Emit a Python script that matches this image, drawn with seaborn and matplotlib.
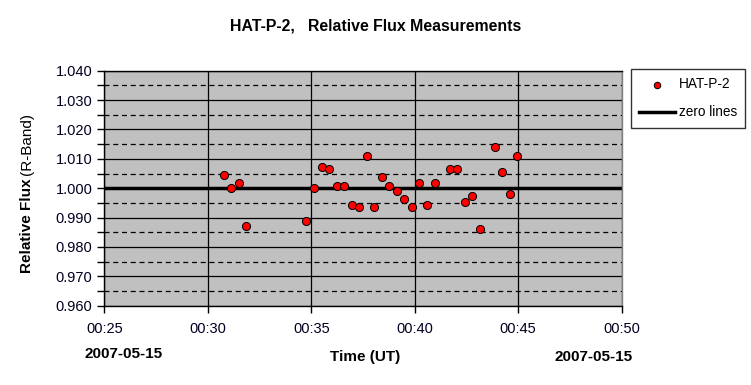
import pandas as pd
import seaborn as sns
import matplotlib.pyplot as plt
import matplotlib.dates as mdates
from matplotlib.ticker import MultipleLocator

plt.rcParams['font.family'] = ['Liberation Sans', 'DejaVu Sans']

# observation times (UT, 2007-05-15) and relative flux values
obs_date = '2007-05-15'
times = ['00:30:47', '00:31:07', '00:31:31', '00:31:51', '00:34:44', '00:35:07',
         '00:35:31', '00:35:52', '00:36:14', '00:36:34', '00:36:58', '00:37:19',
         '00:37:41', '00:38:02', '00:38:24', '00:38:45', '00:39:08', '00:39:29',
         '00:39:51', '00:40:12', '00:40:35', '00:40:58', '00:41:42', '00:42:02',
         '00:42:25', '00:42:46', '00:43:08', '00:43:52', '00:44:12', '00:44:35',
         '00:44:56']
flux = [1.0045, 1.0002, 1.0019, 0.9871, 0.9889, 1.0002,
        1.0073, 1.0065, 1.0009, 1.0009, 0.9944, 0.9937,
        1.0111, 0.9937, 1.0039, 1.0009, 0.9991, 0.9964,
        0.9937, 1.0019, 0.9944, 1.0019, 1.0066, 1.0066,
        0.9954, 0.9974, 0.9862, 1.0141, 1.0055, 0.9981,
        1.0111]
x_range = ['00:25', '00:50']
y_range = [0.960, 1.040]

df = pd.DataFrame({'time': pd.to_datetime([obs_date + ' ' + t for t in times]),
                   'flux': flux})
x0, x1 = pd.to_datetime([obs_date + ' ' + t for t in x_range])

fig = plt.figure(figsize=(7.51, 3.85), dpi=100)
ax = fig.add_axes([104.3 / 751, 1 - 305.7 / 385, 517.4 / 751, 235 / 385])
ax.set_facecolor('#c0c0c0')

# grid: solid majors, dashed minors on y
for v in [0.96 + 0.01 * i for i in range(9)]:
    ax.axhline(v, color='black', lw=0.9, zorder=1)
for v in [0.965 + 0.01 * i for i in range(8)]:
    ax.axhline(v, color='black', lw=0.9, ls=(0, (4, 3)), zorder=1)
ax.xaxis.set_major_locator(mdates.MinuteLocator(byminute=range(0, 60, 5)))
ax.xaxis.set_major_formatter(mdates.DateFormatter('%H:%M'))
ax.grid(axis='x', color='black', lw=0.9, zorder=1)

zero = ax.axhline(1.0, color='black', lw=2.5, zorder=2, label='zero lines')
sns.scatterplot(data=df, x='time', y='flux', ax=ax, color='#ff0000',
                edgecolor='black', linewidth=0.7, s=34, zorder=3, label='HAT-P-2')

ax.set_xlim(x0, x1)
ax.set_ylim(*y_range)
ax.yaxis.set_major_locator(MultipleLocator(0.01))
ax.yaxis.set_minor_locator(MultipleLocator(0.005))
ax.yaxis.set_major_formatter(plt.FormatStrFormatter('%.3f'))
ax.tick_params(axis='both', which='both', direction='out', length=5, width=1,
               color='black', labelsize=10.5, labelcolor='#000020')
ax.tick_params(axis='x', pad=7)
ax.set_xlabel('')
ax.set_ylabel('')
for sp in ax.spines.values():
    sp.set_color('black')
    sp.set_linewidth(1)
ax.spines['right'].set_color('#808080')

h, l = ax.get_legend_handles_labels()
order = [l.index('HAT-P-2'), l.index('zero lines')]
leg = fig.legend([h[i] for i in order], [l[i] for i in order],
                 loc='upper left', bbox_to_anchor=(631 / 751, 1 - 69 / 385),
                 fontsize=9.8, frameon=True, fancybox=False, edgecolor='black',
                 handlelength=2.6, handletextpad=0.3, labelspacing=1.05,
                 borderpad=0.6, borderaxespad=0, markerscale=0.8)
leg.get_frame().set_linewidth(1)
if ax.get_legend():
    ax.get_legend().remove()

fig.text(376 / 751, 1 - 26 / 385, 'HAT-P-2,   Relative Flux Measurements',
         ha='center', va='center', fontsize=11.4, fontweight='bold')
fig.text(124 / 751, 1 - 354 / 385, obs_date, ha='center', va='center',
         fontsize=11, fontweight='bold')
fig.text(594 / 751, 1 - 357 / 385, obs_date, ha='center', va='center',
         fontsize=11, fontweight='bold')
fig.text(365 / 751, 1 - 357 / 385, 'Time (UT)', ha='center', va='center',
         fontsize=11, fontweight='bold')

# y label: bold part then normal part stacked upward
t1 = fig.text(27.5 / 751, 1 - 273 / 385, 'Relative Flux', rotation=90,
              ha='center', va='bottom', fontsize=11, fontweight='bold')
fig.canvas.draw()
bb = t1.get_window_extent()
fig.text(27.5 / 751, (bb.y1 + 3) / fig.bbox.height, '(R-Band)', rotation=90,
         ha='center', va='bottom', fontsize=11)

fig.savefig('out.png', dpi=100)
